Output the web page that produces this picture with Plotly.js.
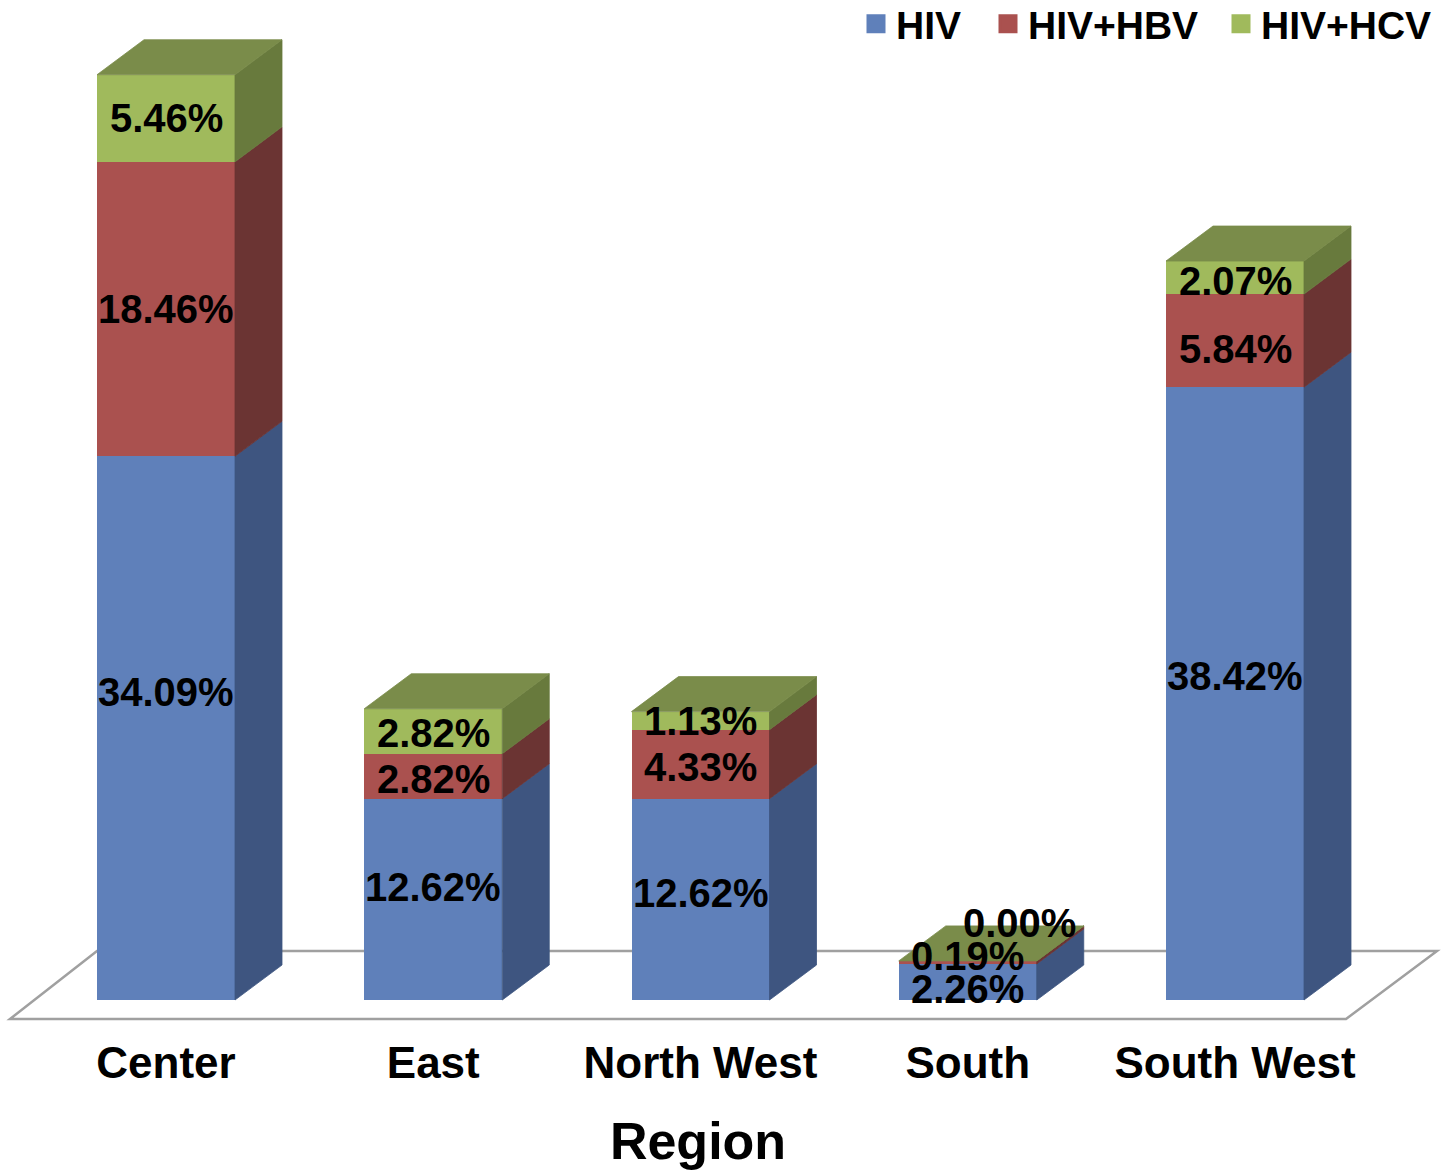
<!DOCTYPE html>
<html>
<head>
<meta charset="utf-8">
<script src="https://cdn.plot.ly/plotly-3.0.1.min.js"></script>
<style>html,body{margin:0;padding:0;background:#fff;}#chart{width:1443px;height:1170px;}</style>
</head>
<body>
<div id="chart"></div>
<script>
// ---- data ----
const categories = ['Center', 'East', 'North West', 'South', 'South West'];
const seriesNames = ['HIV', 'HIV+HBV', 'HIV+HCV'];
const hiv = [34.09, 12.62, 12.62, 2.26, 38.42];
const hbv = [18.46, 2.82, 4.33, 0.19, 5.84];
const hcv = [5.46, 2.82, 1.13, 0.00, 2.07];

// ---- styles ----
const frontColors = ['#5f80ba', '#aa514f', '#a0ba5c'];
const sideColors = ['#3e5580', '#6b3433', '#687a3d'];
const topColor = '#7a8c4a';
const FONT = 'Liberation Sans, Arial, sans-serif';

// ---- geometry (pixel-derived scale factors) ----
const W = 1443, H = 1170;
const mL = 0, mR = 0, mT = 0, mB = 140;
const plotRightPx = 1396;               // x-axis domain end (centres the axis title)
const pxPerX = 267.25, x0px = 166;      // category spacing, first category position
const pxPerY = 15.95, y0px = 1000;      // px per percent, baseline pixel
const barW = 138 / pxPerX;
const depthX = 47 / pxPerX, depthY = 35 / pxPerY;
const xRange = [(mL - x0px) / pxPerX, (plotRightPx - x0px) / pxPerX];
const yRange = [(y0px - (H - mB)) / pxPerY, (y0px - mT) / pxPerY];
const plotH = H - mT - mB;

const xs = categories.map((c, i) => i);
const series = [hiv, hbv, hcv];

const traces = [];
// front faces as stacked bars
series.forEach((vals, s) => {
  traces.push({
    type: 'bar', x: xs, y: vals, name: seriesNames[s],
    marker: {color: frontColors[s], line: {width: 0}},
    showlegend: false, hoverinfo: 'skip'
  });
});

// side & top faces
const bases = xs.map(() => 0);
series.forEach((vals, s) => {
  vals.forEach((v, i) => {
    const xr = xs[i] + barW / 2;
    const y0 = bases[i], y1 = bases[i] + v;
    traces.push({
      type: 'scatter', mode: 'lines', fill: 'toself',
      x: [xr, xr + depthX, xr + depthX, xr, xr],
      y: [y0, y0 + depthY, y1 + depthY, y1, y0],
      fillcolor: sideColors[s], line: {color: sideColors[s], width: 0.8},
      showlegend: false, hoverinfo: 'skip'
    });
    bases[i] = y1;
  });
});
xs.forEach((x, i) => {
  const xl = x - barW / 2, xr = x + barW / 2, T = bases[i];
  traces.push({
    type: 'scatter', mode: 'lines', fill: 'toself',
    x: [xl, xl + depthX, xr + depthX, xr, xl],
    y: [T, T + depthY, T + depthY, T, T],
    fillcolor: topColor, line: {color: topColor, width: 0.8},
    showlegend: false, hoverinfo: 'skip'
  });
});

// legend entries (one legend box per series, laid out like the original)
const legendIds = ['legend', 'legend2', 'legend3'];
const legendLeftPx = [856, 988, 1221];
const legendCenterYPx = 24;
seriesNames.forEach((n, s) => {
  traces.push({
    type: 'scatter', mode: 'markers', x: [null], y: [null], name: n,
    legend: legendIds[s],
    marker: {symbol: 'square', size: 16, color: frontColors[s],
             line: {color: frontColors[s], width: 3}},
    hoverinfo: 'skip'
  });
});

// value labels
const annotations = [];
// pixel nudges [dx, dy(down +)] per category & series, mimicking the original placement
const labelNudge = {
  0: [[0, -36], [0, 0], [0, 0]],
  1: [[0, -12], [0, 3], [0, 2]],
  2: [[0, -6], [0, 3], [0, 0]],
  3: [[0, 7], [0, -6], [52, -38]],
  4: [[0, -18], [0, 8], [0, 3]]
};
const tightCategory = 3;   // crowded labels get a snug text box
const cum = xs.map(() => 0);
series.forEach((vals, s) => {
  vals.forEach((v, i) => {
    const mid = cum[i] + v / 2;
    cum[i] += v;
    const nudge = labelNudge[i] ? labelNudge[i][s] : [0, 0];
    const ann = {
      x: xs[i], y: mid, xref: 'x', yref: 'y', showarrow: false,
      text: v.toFixed(2) + '%',
      xshift: nudge[0], yshift: -nudge[1],
      font: {family: FONT, size: 40, color: '#000', weight: 'bold'}
    };
    if (i === tightCategory) ann.height = 30;
    annotations.push(ann);
  });
});

// floor parallelogram (decorative, pixel geometry)
const fy0 = (y0px - 1019) / pxPerY, fy1 = (y0px - 951) / pxPerY;
const px2paper = p => (p - mL) / (W - mL - mR);
const shapes = [{
  type: 'path', xref: 'paper', yref: 'y', layer: 'below',
  path: `M${px2paper(10)},${fy0} L${px2paper(1346)},${fy0} L${px2paper(1437)},${fy1} L${px2paper(97)},${fy1} Z`,
  line: {color: '#a0a0a0', width: 2.5}, fillcolor: 'rgba(0,0,0,0)'
}];

const legendBase = {
  orientation: 'h', xanchor: 'left', yanchor: 'middle',
  y: 1 - (legendCenterYPx - mT) / plotH,
  font: {family: FONT, size: 39, color: '#000', weight: 'bold'},
  bgcolor: 'rgba(0,0,0,0)', borderwidth: 0
};

const layout = {
  width: W, height: H,
  margin: {l: mL, r: mR, t: mT, b: mB, pad: 0, autoexpand: false},
  paper_bgcolor: '#fff', plot_bgcolor: '#fff',
  barmode: 'stack', bargap: 1 - barW,
  showlegend: true,
  legend: Object.assign({}, legendBase, {x: px2paper(legendLeftPx[0])}),
  legend2: Object.assign({}, legendBase, {x: px2paper(legendLeftPx[1])}),
  legend3: Object.assign({}, legendBase, {x: px2paper(legendLeftPx[2])}),
  xaxis: {range: xRange, domain: [0, px2paper(plotRightPx)], tickvals: xs, ticktext: categories,
          showgrid: false, zeroline: false, showline: false, ticks: '',
          tickfont: {family: FONT, size: 44, color: '#000', weight: 'bold'},
          ticklabelstandoff: 3,
          title: {text: 'Region', font: {family: FONT, size: 52, color: '#000', weight: 'bold'}, standoff: 44},
          automargin: false, fixedrange: true},
  yaxis: {range: yRange, visible: false, fixedrange: true},
  shapes: shapes,
  annotations: annotations
};

Plotly.newPlot('chart', traces, layout, {displayModeBar: false, staticPlot: true});
</script>
</body>
</html>
